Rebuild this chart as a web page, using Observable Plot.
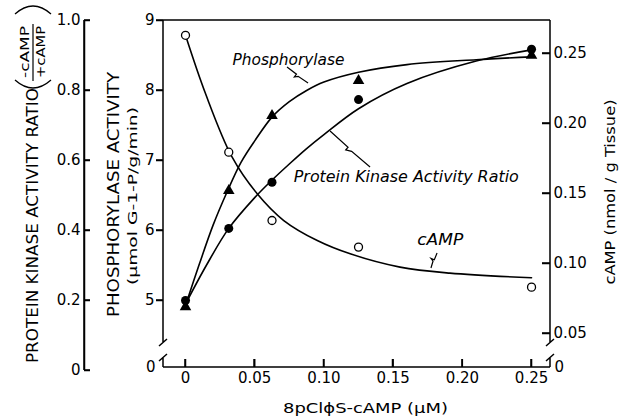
<!DOCTYPE html>
<html><head><meta charset="utf-8">
<script src="https://cdn.jsdelivr.net/npm/d3@7"></script>
<script src="https://cdn.jsdelivr.net/npm/@observablehq/plot@0.6"></script>
<style>
html,body{margin:0;padding:0;background:#fff;}
#chart{width:626px;height:418px;}
</style></head><body><div id="chart"></div>
<script>
// ---- measured data points (8pClφS-cAMP, µM) ----
const doses = [0, 0.03125, 0.0625, 0.125, 0.25];
const phosphorylase = [4.91, 6.57, 7.64, 8.14, 8.50];      // µmol G-1-P/g/min
const kinaseRatio = [0.20, 0.406, 0.538, 0.774, 0.918];    // -cAMP/+cAMP
const camp = [0.263, 0.1795, 0.1307, 0.1117, 0.0831];      // nmol/g tissue

// ---- fitted curves ----
const phosCurveX = [0, 0.01, 0.02, 0.03, 0.04, 0.05, 0.0625, 0.075, 0.0875, 0.1, 0.125, 0.16, 0.21, 0.25];
const phosCurveP = [4.93, 5.52, 6.08, 6.55, 6.97, 7.28, 7.62, 7.84, 8.00, 8.12, 8.26, 8.37, 8.44, 8.48];
const kinaseCurveX = [0, 0.015, 0.03125, 0.05, 0.0625, 0.075, 0.0875, 0.1, 0.125, 0.16, 0.21, 0.25];
const kinaseCurveR = [0.19, 0.30, 0.406, 0.494, 0.544, 0.59, 0.634, 0.674, 0.748, 0.82, 0.884, 0.916];
const campCurveX = [0, 0.0145, 0.0337, 0.0518, 0.071, 0.0952, 0.119, 0.155, 0.191, 0.25];
const campCurveV = [0.263, 0.2212, 0.1759, 0.1498, 0.1307, 0.1164, 0.1069, 0.0974, 0.0931, 0.0898];

// ---- ticks ----
const xTicks = [0, 0.05, 0.10, 0.15, 0.20, 0.25];
const xTickLabels = ["0", "0.05", "0.10", "0.15", "0.20", "0.25"];
const phosTicks = [5, 6, 7, 8, 9];
const phosTickLabels = ["5", "6", "7", "8", "9"];
const ratioTicks = [0, 0.2, 0.4, 0.6, 0.8, 1.0];
const ratioTickLabels = ["0", "0.2", "0.4", "0.6", "0.8", "1.0"];
const campTicks = [0.05, 0.10, 0.15, 0.20, 0.25];
const campTickLabels = ["0.05", "0.10", "0.15", "0.20", "0.25"];

// ---- text ----
const curveLabels = [
  {text: "Phosphorylase", x: 0.0744, y: 8.43, len: 112},
  {text: "Protein Kinase Activity Ratio", x: 0.1595, y: 6.757, len: 225},
  {text: "cAMP", x: 0.184, y: 5.857, len: 46}
];
const leaders = [
  {x1: 0.0737, y1: 8.329, x2: 0.0889, y2: 8.10},
  {x1: 0.1048, y1: 7.414, x2: 0.1337, y2: 6.90},
  {x1: 0.1821, y1: 5.671, x2: 0.1777, y2: 5.457}
];

// ---- secondary-axis conversions onto the phosphorylase scale ----
const ratioToP = r => 4 + 5 * r;
const campToP = v => 8.5286 + 20 * (v - 0.25);

const pts = doses.map((x, i) => ({x, p: phosphorylase[i], r: kinaseRatio[i], c: camp[i]}));
const phosCurve = phosCurveX.map((x, i) => ({x, y: phosCurveP[i]}));
const kinCurve = kinaseCurveX.map((x, i) => ({x, y: ratioToP(kinaseCurveR[i])}));
const campCurve = campCurveX.map((x, i) => ({x, y: campToP(campCurveV[i])}));
const ratioP = ratioTicks.map(ratioToP);
const campP = campTicks.map(campToP);

const lab = (ticks, labels) => d => { const i = ticks.findIndex(t => Math.abs(t - d) < 1e-9); return i < 0 ? "" : labels[i]; };

const W = 626, H = 418, ML = 163, MR = 76, MT = 20, MB = 51;
const FW = W - ML - MR, FH = H - MT - MB;
const xDomain = [-0.0159, 0.2637];
const RDX = -79;
const tk = {stroke: "black", strokeWidth: 1.5};

const plot = Plot.plot({
  width: W, height: H,
  marginLeft: ML, marginRight: MR, marginTop: MT, marginBottom: MB,
  style: {fontFamily: "'DejaVu Sans', sans-serif", fontSize: "15px", color: "black", background: "white"},
  x: {domain: xDomain},
  y: {domain: [4.0429, 9]},
  marks: [
    // tick marks
    Plot.tickX(xTicks, {x: d => d, insetTop: FH - 8, ...tk}),
    Plot.tickY(phosTicks, {y: d => d, dx: -7, insetRight: FW - 7, ...tk}),
    Plot.tickY(ratioP, {y: d => d, dx: RDX, insetRight: FW - 6, ...tk}),
    Plot.tickY(campP, {y: d => d, insetLeft: FW - 8, ...tk}),
    Plot.ruleX([xDomain[0]], {y1: ratioToP(0), y2: ratioToP(1), dx: RDX, stroke: "black", strokeWidth: 1.5}),
    // tick labels
    Plot.axisX(xTicks, {anchor: "bottom", tickSize: 0, tickPadding: 5, label: null, tickFormat: lab(xTicks, xTickLabels)}),
    Plot.axisY(phosTicks, {anchor: "left", tickSize: 0, tickPadding: 9, label: null, tickFormat: lab(phosTicks, phosTickLabels)}),
    Plot.axisY(ratioP, {anchor: "left", dx: RDX, tickSize: 0, tickPadding: 4, label: null, tickFormat: lab(ratioP, ratioTickLabels)}),
    Plot.axisY(campP, {anchor: "right", tickSize: 0, tickPadding: 3, label: null, tickFormat: lab(campP, campTickLabels)}),
    Plot.text(["0"], {frameAnchor: "bottom-left", dx: -8, textAnchor: "end", lineAnchor: "middle"}),
    Plot.text(["0"], {frameAnchor: "bottom-right", dx: 4, textAnchor: "start", lineAnchor: "middle"}),
    // curves and points
    Plot.line(phosCurve, {x: "x", y: "y", curve: "catmull-rom", stroke: "black", strokeWidth: 1.6}),
    Plot.line(kinCurve, {x: "x", y: "y", curve: "catmull-rom", stroke: "black", strokeWidth: 1.6}),
    Plot.line(campCurve, {x: "x", y: "y", curve: "catmull-rom", stroke: "black", strokeWidth: 1.6}),
    Plot.dot(pts, {x: "x", y: d => campToP(d.c), r: 4, stroke: "black", strokeWidth: 1.3, fill: "white"}),
    Plot.dot(pts, {x: "x", y: d => ratioToP(d.r), r: 4.5, fill: "black", stroke: "none"}),
    Plot.dot(pts, {x: "x", y: "p", symbol: "triangle", r: 4.3, fill: "black", stroke: "none"}),
    Plot.text(curveLabels, {x: "x", y: "y", text: "text", fontStyle: "italic", fontSize: 15, textAnchor: "middle", lineAnchor: "middle"})
  ]
});
document.getElementById("chart").appendChild(plot);

// ---- frame, broken axes, titles and leaders ----
const svg = d3.select(plot);
const sx = plot.scale("x"), sy = plot.scale("y");
const X = v => sx.apply(v), Y = v => sy.apply(v);
const rd = v => Math.round(v * 2) / 2;
const L = ML, R = W - MR, T = MT, B = H - MB;
const g = svg.append("g").attr("fill", "none").attr("stroke", "black").attr("stroke-width", 1.5);
const gap1 = B - 25, gap2 = B - 10;
const RX = L + RDX;
let frame = `M${L},${T}H${R}M${L},${B}H${R}`;
frame += `M${RX},${rd(Y(ratioToP(1)))}V${rd(Y(ratioToP(0)))}`;
for (const t of ratioP) frame += `M${RX},${rd(Y(t))}h6`;
for (const t of phosTicks) frame += `M${L - 7},${rd(Y(t))}h7`;
for (const t of campP) frame += `M${R - 8},${rd(Y(t))}h8`;
for (const t of xTicks) frame += `M${rd(X(t))},${B - 8}v8`;
g.append("path").attr("d", frame);
for (const ax of [L, R]) {
  g.append("path").attr("d", `M${ax},${T}V${gap1}M${ax - 4},${gap1 + 4}L${ax + 4},${gap1 - 3}M${ax - 4},${gap2 + 4}L${ax + 4},${gap2 - 3}M${ax},${gap2}V${B}`);
}

// leaders with a small kink
for (const d of leaders) {
  const x1 = X(d.x1), y1 = Y(d.y1), x2 = X(d.x2), y2 = Y(d.y2);
  const dx = x2 - x1, dy = y2 - y1, len = Math.hypot(dx, dy);
  const nx = -dy / len * 3.5, ny = dx / len * 3.5;
  const P = t => [x1 + dx * t, y1 + dy * t];
  const a = P(0.45), b = P(0.55);
  g.append("path").attr("stroke-width", 1.2)
    .attr("d", `M${x1},${y1}L${a[0]},${a[1]}L${a[0] + nx},${a[1] + ny}L${b[0] + nx * 0.2},${b[1] + ny * 0.2}L${x2},${y2}`);
}

// fit label lengths
svg.selectAll("text").each(function () {
  const t = d3.select(this).text();
  const c = curveLabels.find(c => c.text === t);
  if (c) d3.select(this).attr("textLength", c.len).attr("lengthAdjust", "spacingAndGlyphs");
});

const tg = svg.append("g").attr("fill", "black").attr("font-family", "'DejaVu Sans', sans-serif");
function vtext(x, y, str, size, len, anchor = "middle") {
  tg.append("text").attr("transform", `translate(${x},${y}) rotate(-90)`)
    .attr("text-anchor", anchor).attr("dy", "0.36em").attr("font-size", size)
    .attr("textLength", len).attr("lengthAdjust", "spacingAndGlyphs").text(str);
}
vtext(33, 363, "PROTEIN KINASE ACTIVITY RATIO", 15, 275, "start");
vtext(24.5, 52, "-cAMP", 12, 52);
vtext(40.5, 52, "+cAMP", 12, 52);
vtext(114, 194.5, "PHOSPHORYLASE ACTIVITY", 15, 245);
vtext(132, 196, "(μmol G-1-P/g/min)", 13, 178);
vtext(610, 192, "cAMP (nmol / g Tissue)", 14, 185);
tg.append("text").attr("x", 365.5).attr("y", 408).attr("dy", "0.36em").attr("text-anchor", "middle")
  .attr("font-size", 14.5).attr("textLength", 165).attr("lengthAdjust", "spacingAndGlyphs").text("8pClϕS-cAMP (μM)");
// fraction bar and parentheses
g.append("path").attr("stroke-width", 1.2).attr("d", "M33,24V81");
g.append("path").attr("stroke-width", 1.3).attr("d", "M15,80Q33,96 51,80M15,14Q33,-2 51,14");
</script>
</body></html>
